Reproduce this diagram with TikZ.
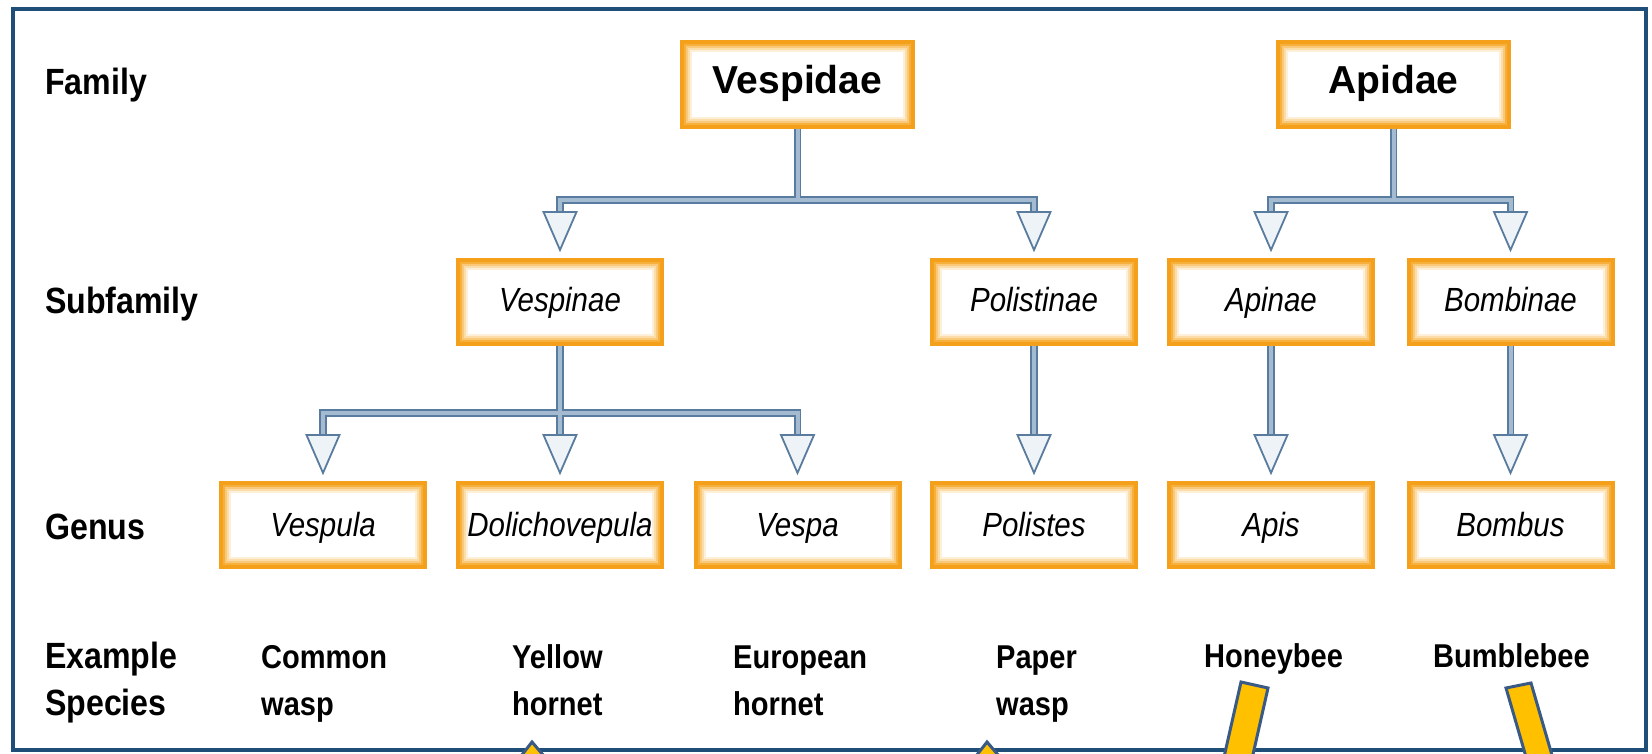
\documentclass[tikz,border=0pt]{standalone}
\usepackage{fontspec}
\setmainfont{Liberation Sans}[FakeStretch=0.88]
\newfontfamily\widefont{Liberation Sans}
\usetikzlibrary{calc}
\definecolor{cFrame}{HTML}{1F4E79}
\definecolor{cOrange}{HTML}{F4A01A}
\definecolor{cOrA}{HTML}{F6B03E}
\definecolor{cOrB}{HTML}{F9C878}
\definecolor{cOrC}{HTML}{FBDDAA}
\definecolor{cOrD}{HTML}{FDEFD8}
\definecolor{cConnOut}{HTML}{587C9F}
\definecolor{cConnIn}{HTML}{A3BAD0}
\definecolor{cHeadLine}{HTML}{587B9E}
\definecolor{cHeadFill}{HTML}{EEF3F8}
\definecolor{cYellow}{HTML}{FFC000}
\definecolor{cBarLine}{HTML}{3A5A86}
\tikzset{
  glow/.style={path picture={
    \foreach \d/\c in {3/cOrA,5/cOrB,7/cOrC,9/cOrD}{
      \draw[line width=2pt, \c] ([shift={(\d pt,\d pt)}]path picture bounding box.south west) rectangle ([shift={(-\d pt,-\d pt)}]path picture bounding box.north east);
    }
  }},
  taxbox/.style={draw=cOrange, line width=4pt, fill=white, glow, inner sep=0pt,
    minimum width=204pt, minimum height=84pt, text height=24pt,
    font=\itshape\fontsize{33.5}{40}\selectfont},
  subbox/.style={taxbox, text depth=6pt},
  genbox/.style={taxbox, text depth=2pt},
  fambox/.style={taxbox, minimum width=231pt, minimum height=85pt, text height=27pt, text depth=9pt,
    font=\widefont\bfseries\fontsize{39}{45}\selectfont},
  rowlab/.style={anchor=base west, inner sep=0pt, align=left, font=\bfseries\fontsize{36.5}{47}\selectfont},
  spec/.style={anchor=base west, inner sep=0pt, align=left, font=\bfseries\fontsize{33}{47}\selectfont},
  connout/.style={draw=cConnOut, line width=7.5pt},
  connin/.style={draw=cConnIn, line width=4pt},
  headst/.style={draw=cHeadLine, line width=1.8pt, fill=cHeadFill, line join=miter},
  yellowbar/.style={fill=cYellow, draw=cBarLine, line width=3pt, line join=miter},
}
\newcommand\myconns[1]{%
  \draw[#1] (vespidae.south) -- ++(0,71) -| (e-vespinae);
  \draw[#1] (vespidae.south) -- ++(0,71) -| (e-polistinae);
  \draw[#1] (apidae.south) -- ++(0,71) -| (e-apinae);
  \draw[#1] (apidae.south) -- ++(0,71) -| (e-bombinae);
  \draw[#1] (vespinae.south) -- ++(0,67) -| (e-vespula);
  \draw[#1] (vespinae.south) -- (e-dolicho);
  \draw[#1] (vespinae.south) -- ++(0,67) -| (e-vespa);
  \draw[#1] (polistinae.south) -- (e-polistes);
  \draw[#1] (apinae.south) -- (e-apis);
  \draw[#1] (bombinae.south) -- (e-bombus);
}
\newcommand\myhead[1]{\filldraw[headst] (t-#1) -- ++(-16.5,-38) -- ++(33,0) -- cycle;}
\begin{document}
\begin{tikzpicture}[x=1pt, y=-1pt]
\useasboundingbox (0,0) rectangle (1652,754);
\clip (0,0) rectangle (1652,754);
\fill[white] (0,0) rectangle (1652,754);
\draw[cFrame, line width=4pt] (13,9) rectangle (1646,750);

% boxes
\node[fambox] (vespidae) at (797.5,84.5) {Vespidae};
\node[fambox] (apidae) at (1393.5,84.5) {Apidae};
\node[subbox] (vespinae) at (560,302) {Vespinae};
\node[subbox] (polistinae) at (1034,302) {Polistinae};
\node[subbox] (apinae) at (1271,302) {Apinae};
\node[subbox] (bombinae) at (1510.5,302) {Bombinae};
\node[genbox] (vespula) at (323,525) {Vespula};
\node[genbox] (dolicho) at (560,525) {Dolichovepula};
\node[genbox] (vespa) at (797.5,525) {Vespa};
\node[genbox] (polistes) at (1034,525) {Polistes};
\node[genbox] (apis) at (1271,525) {Apis};
\node[genbox] (bombus) at (1510.5,525) {Bombus};

% arrow end points
\foreach \n in {vespinae,polistinae,apinae,bombinae,vespula,dolicho,vespa,polistes,apis,bombus}{
  \coordinate (e-\n) at ($(\n.north)+(0,-44)$);
  \coordinate (t-\n) at ($(\n.north)+(0,-8)$);
}
\myconns{connout}
\myconns{connin}
\foreach \n in {vespinae,polistinae,apinae,bombinae,vespula,dolicho,vespa,polistes,apis,bombus}{
  \myhead{\n}
}

% row labels
\node[rowlab] (lfam) at (45,95) {Family};
\node[rowlab] (lsub) at (45,313) {Subfamily};
\node[rowlab] (lgen) at (45,539) {Genus};
\node[rowlab] (lex) at (45,715) {Example\\Species};

% species
\node[spec] (s1) at (261,715) {Common\\wasp};
\node[spec] (s2) at (512,715) {Yellow\\hornet};
\node[spec] (s3) at (733,715) {European\\hornet};
\node[spec] (s4) at (996,715) {Paper\\wasp};
\node[spec] (s5) at (1204,667) {Honeybee};
\node[spec] (s6) at (1433,667) {Bumblebee};

% yellow pointers (cut off at the bottom)
\draw[yellowbar] (1241,682) -- (1268,688) -- (1242.7,800) -- (1214.3,800) -- cycle;
\draw[yellowbar] (1506,688) -- (1531,683) -- (1565,800) -- (1538.5,800) -- cycle;
\draw[yellowbar] (532,742) -- (556,770) -- (510,770) -- cycle;
\draw[yellowbar] (987,742) -- (1011,770) -- (965,770) -- cycle;
\end{tikzpicture}
\end{document}
